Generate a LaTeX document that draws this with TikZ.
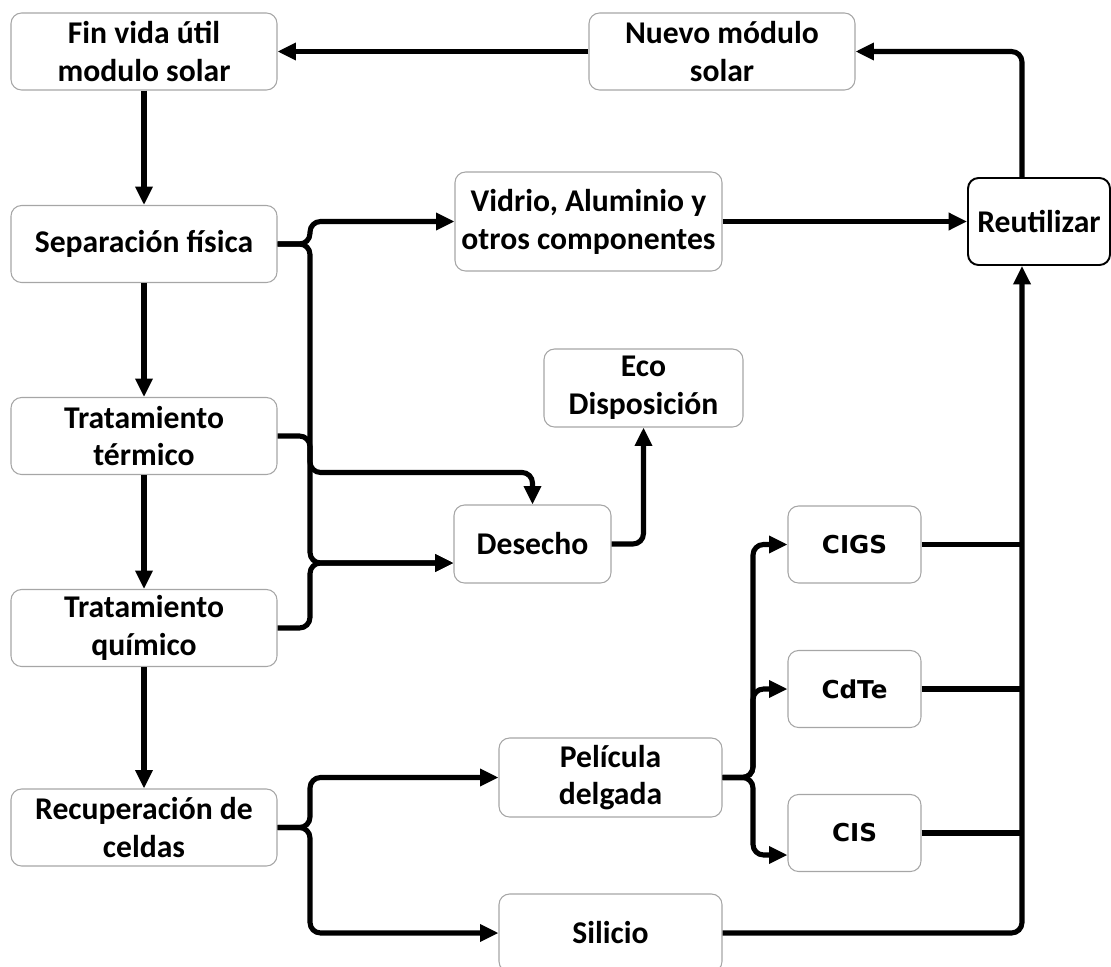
\documentclass[tikz,border=0pt]{standalone}
\usepackage{fontspec}
\usepackage{tikz}
\usetikzlibrary{arrows.meta}
\newfontfamily\boxfont{Carlito}
\newfontfamily\cellfont{DejaVu Sans}

\tikzset{
  box/.style={draw=gray!70, line width=0.6pt, rounded corners=6pt, align=center,
    minimum width=5.32cm, minimum height=1.54cm,
    font=\boxfont\bfseries\fontsize{18}{21.5}\selectfont},
  cellbox/.style={box, minimum width=2.66cm, font=\cellfont\bfseries\fontsize{14}{16}\selectfont},
  flow/.style={line width=2.9pt, rounded corners=6pt, -{Triangle[length=10.5pt,width=9.5pt]}},
  link/.style={line width=2.9pt, rounded corners=6pt}
}

\begin{document}
\begin{tikzpicture}
\useasboundingbox (0,0) rectangle (22.22,-19.34);

% left column
\node[box] (fin) at (2.88,-1.03) {Fin vida útil\\modulo solar};
\node[box] (sep) at (2.88,-4.88) {Separación física};
\node[box] (term) at (2.88,-8.72) {Tratamiento\\térmico};
\node[box] (quim) at (2.88,-12.56) {Tratamiento\\químico};
\node[box] (recup) at (2.88,-16.55) {Recuperación de\\celdas};

% middle
\node[box] (nuevo) at (14.44,-1.03) {Nuevo módulo\\solar};
\node[box, minimum width=5.34cm, minimum height=1.98cm] (vidrio) at (11.77,-4.43) {Vidrio, Aluminio y\\otros componentes};
\node[box, minimum width=3.98cm, minimum height=1.56cm] (eco) at (12.87,-7.76) {Eco\\Disposición};
\node[box, minimum width=3.14cm, minimum height=1.56cm] (desecho) at (10.65,-10.88) {Desecho};
\node[box, minimum width=4.46cm, minimum height=1.58cm] (pel) at (12.21,-15.55) {Película\\delgada};
\node[box, minimum width=4.46cm, minimum height=1.56cm] (silicio) at (12.21,-18.66) {Silicio};

% thin film cells
\node[cellbox] (cigs) at (17.09,-10.89) {CIGS};
\node[cellbox] (cdte) at (17.09,-13.78) {CdTe};
\node[cellbox] (cis) at (17.09,-16.66) {CIS};

\node[box, draw=black, line width=1.1pt, minimum width=2.84cm, minimum height=1.74cm] (reut) at (20.78,-4.43) {Reutilizar};

% buses
\coordinate (busL) at (6.2,0);
\coordinate (busP) at (15.06,0);
\coordinate (busR) at (20.44,0);
\coordinate (wasteTop) at ([yshift=0.64cm]desecho.north);

\draw[flow] (fin) -- (sep);
\draw[flow] (sep) -- (term);
\draw[flow] (term) -- (quim);
\draw[flow] (quim) -- (recup);
\draw[flow] (nuevo.west) -- (fin.east);

\draw[flow] (sep.east) -- (sep.east -| busL) |- (vidrio.west);
\draw[flow] (sep.east) -- (sep.east -| busL) |- ([yshift=-0.38cm]desecho.west);
\draw[flow] (term.east) -- (term.east -| busL) |- (wasteTop) -- (desecho.north);
\draw[flow] (quim.east) -- (quim.east -| busL) |- ([yshift=-0.38cm]desecho.west);
\draw[flow] (desecho.east) -| (eco.south);

\draw[flow] (vidrio.east) -- (reut.west);
\draw[flow] (reut.north -| busR) |- (nuevo.east);

\draw[flow] (recup.east) -- (recup.east -| busL) |- (pel.west);
\draw[flow] (recup.east) -- (recup.east -| busL) |- (silicio.west);

\draw[flow] (pel.east) -- (pel.east -| busP) |- (cigs.west);
\draw[flow] (pel.east) -- (pel.east -| busP) |- (cdte.west);
\draw[flow] (pel.east) -- (pel.east -| busP) |- ([yshift=-0.44cm]cis.west);

\draw[link] (cigs.east) -- (cigs.east -| busR);
\draw[link] (cdte.east) -- (cdte.east -| busR);
\draw[link] (cis.east) -- (cis.east -| busR);
\draw[flow] (silicio.east) -| (reut.south -| busR);
\end{tikzpicture}
\end{document}
